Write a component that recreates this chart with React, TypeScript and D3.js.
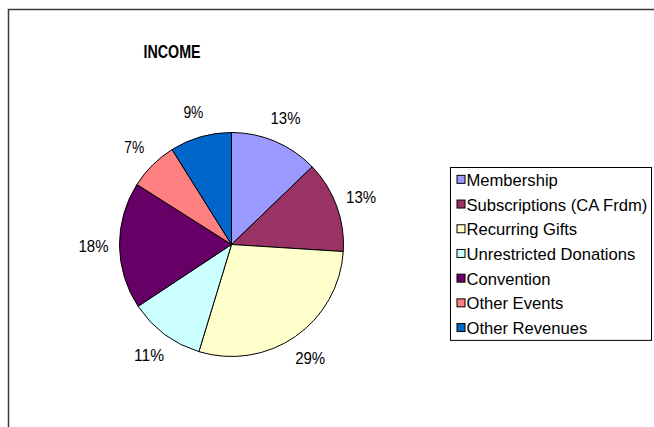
import { useRef, useEffect } from 'react';
import * as d3 from 'd3';

// slice shares (percent); labels are the rounded values
const categories = [
  'Membership',
  'Subscriptions (CA Frdm)',
  'Recurring Gifts',
  'Unrestricted Donations',
  'Convention',
  'Other Events',
  'Other Revenues',
];
const shares = [12.8, 13.2, 28.7, 11.0, 18.3, 7.1, 8.9];
const colors = ['#9999FF', '#993366', '#FFFFCC', '#CCFFFF', '#660066', '#FF8080', '#0066CC'];
const title = 'INCOME';

const W = 654;
const H = 427;

type Slice = { name: string; value: number; color: string };

export default function App() {
  const svgRef = useRef<SVGSVGElement>(null);

  useEffect(() => {
    if (!svgRef.current) return;
    const svg = d3.select(svgRef.current);
    svg.selectAll('*').remove();

    const font = 'Arial, "Liberation Sans", sans-serif';

    // outer frame, runs off the right and bottom edges
    svg.append('rect')
      .attr('x', 8.5)
      .attr('y', 9.5)
      .attr('width', W + 40)
      .attr('height', H + 40)
      .attr('fill', '#fff')
      .attr('stroke', '#3a3a3a')
      .attr('stroke-width', 1.5);

    svg.append('text')
      .attr('x', 172)
      .attr('y', 58)
      .attr('text-anchor', 'middle')
      .attr('font-family', font)
      .attr('font-weight', 'bold')
      .attr('font-size', '18px')
      .attr('textLength', 57)
      .attr('lengthAdjust', 'spacingAndGlyphs')
      .attr('fill', '#000')
      .text(title);

    const cx = 231.5;
    const cy = 244.5;
    const r = 112;
    const labelR = 138;

    const data: Slice[] = categories.map((c, i) => ({ name: c, value: shares[i], color: colors[i] }));
    const pie = d3.pie<Slice>()
      .sort(null)
      .value((d) => d.value);
    const arcs = pie(data);
    const arc = d3.arc<d3.PieArcDatum<Slice>>()
      .innerRadius(0)
      .outerRadius(r);
    const labelArc = d3.arc<d3.PieArcDatum<Slice>>()
      .innerRadius(labelR)
      .outerRadius(labelR);

    const g = svg.append('g').attr('transform', `translate(${cx},${cy})`);

    g.selectAll('.slice')
      .data(arcs)
      .enter()
      .append('path')
      .attr('class', 'slice')
      .attr('d', arc)
      .attr('fill', (d) => d.data.color)
      .attr('stroke', '#000')
      .attr('stroke-width', 1)
      .attr('stroke-linejoin', 'round');

    // percent labels: the original font is narrow, so squeeze to ~10px a glyph
    g.selectAll('.pct')
      .data(arcs)
      .enter()
      .append('text')
      .attr('class', 'pct')
      .attr('transform', (d) => `translate(${labelArc.centroid(d)})`)
      .attr('text-anchor', 'middle')
      .attr('dy', '0.36em')
      .attr('font-family', font)
      .attr('font-size', '17px')
      .attr('textLength', (d) => `${Math.round(d.data.value)}%`.length * 10)
      .attr('lengthAdjust', 'spacingAndGlyphs')
      .attr('fill', '#000')
      .text((d) => `${Math.round(d.data.value)}%`);

    // legend
    const lx = 450.5;
    const ly = 167.5;
    const rowH = 24.7;
    const lg = svg.append('g');
    lg.append('rect')
      .attr('x', lx)
      .attr('y', ly)
      .attr('width', 201)
      .attr('height', rowH * categories.length)
      .attr('fill', '#fff')
      .attr('stroke', '#000')
      .attr('stroke-width', 1);

    const rows = lg.selectAll('.row')
      .data(data)
      .enter()
      .append('g')
      .attr('class', 'row')
      .attr('transform', (d, i) => `translate(${lx}, ${ly + rowH * i + rowH / 2})`);

    rows.append('rect')
      .attr('x', 6.5)
      .attr('y', -4.5)
      .attr('width', 8)
      .attr('height', 8)
      .attr('fill', (d) => d.color)
      .attr('stroke', '#000')
      .attr('stroke-width', 1);

    rows.append('text')
      .attr('x', 16)
      .attr('dy', '0.36em')
      .attr('font-family', font)
      .attr('font-size', '16.6px')
      .attr('fill', '#000')
      .text((d) => d.name);
  }, []);

  return (
    <svg
      ref={svgRef}
      width={W}
      height={H}
      style={{ position: 'absolute', left: 0, top: 0, display: 'block', background: '#fff' }}
    />
  );
}
